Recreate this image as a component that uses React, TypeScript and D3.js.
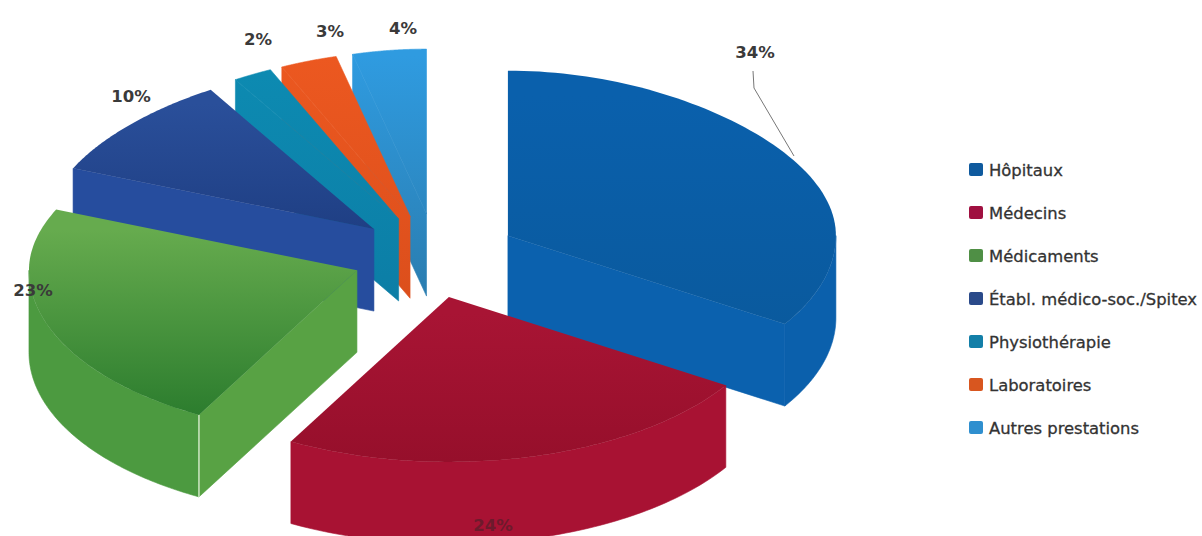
import React from "react";
import * as d3 from "d3";

// Healthcare cost breakdown, shares in percent
const categories = [
  "Hôpitaux",
  "Médecins",
  "Médicaments",
  "Établ. médico-soc./Spitex",
  "Physiothérapie",
  "Laboratoires",
  "Autres prestations",
];
const shares = [34, 24, 23, 10, 2, 3, 4];

// Colours per slice: legend swatch, top face (far, near) and side walls
const swatchColors = ["#0f5a9e", "#a01040", "#4f8f45", "#2a4a8a", "#137fa8", "#d8561f", "#2f8fcf"];
const topFar = ["#0a60ac", "#a81434", "#66ab4e", "#2a4f9a", "#0d8bb2", "#ec5820", "#2f9be0"];
const topNear = ["#0a5a9e", "#960f2b", "#2c7d2e", "#1f3f84", "#0c7ea6", "#dc4f1c", "#2a7db0"];
const wallColors = ["#0b60ac", "#a81233", "#4c9a40", "#24499a", "#0c80ac", "#d94a1a", "#2b7fb4"];
const sideColors = ["#0b61ae", "#a81233", "#58a244", "#264d9e", "url(#top-4)", "url(#top-5)", "url(#top-6)"];

// Label placement on the canvas
const labelX = [755, 493, 33, 131, 258, 330, 403];
const labelY = [58, 531, 296, 102, 45, 37, 34];
const leader: [number, number][] = [[753, 71], [754, 88], [794, 156]];

const WIDTH = 1202;
const HEIGHT = 536;
const CX = 436;
const CY = 256;
const RX = 328;
const TILT = 0.503;
const EXPLODE = 84;
const DEPTH = 82;
const FORESHORTEN = 0.1;
// Sideways correction of the pulled-out slices
const nudgeX = [0, -8, 0, 0, 0, 0, 0];
// Slices this narrow share one gradient between their top and cut faces
const sharedGradientFrom = 4;

const pie = d3.pie<number>().sort(null).startAngle(0).endAngle(2 * Math.PI);
const arcs = pie(shares);
const line = d3.line<[number, number]>();

// Far half of the disc narrows slightly, as in a perspective view
const narrow = (angle: number) => {
  const c = Math.cos(angle);
  return c > 0 ? 1 - FORESHORTEN * c * c : 1;
};

type Slice = {
  i: number;
  ax: number;
  ay: number;
  start: number;
  end: number;
  mid: number;
};

const slices: Slice[] = arcs
  .map((a) => {
    const mid = (a.startAngle + a.endAngle) / 2;
    return {
      i: a.index,
      ax: CX + EXPLODE * Math.sin(mid) * narrow(mid) + nudgeX[a.index],
      ay: CY - EXPLODE * TILT * Math.cos(mid),
      start: a.startAngle,
      end: a.endAngle,
      mid,
    };
  })
  // Paint far slices first, so nearer ones overlap them
  .sort((p, q) => -Math.cos(p.mid) + Math.cos(q.mid));

const rim = (s: Slice, angle: number, drop = 0): [number, number] => [
  s.ax + RX * narrow(angle) * Math.sin(angle),
  s.ay - RX * TILT * Math.cos(angle) + drop,
];

const sweep = (from: number, to: number) =>
  d3.range(0, 81).map((k) => from + ((to - from) * k) / 80);

function topPath(s: Slice): string {
  return line([[s.ax, s.ay], ...sweep(s.start, s.end).map((a) => rim(s, a))]) + "Z";
}

// Outer wall: only the part of the rim turned towards the viewer
function wallPath(s: Slice): string | null {
  const from = Math.max(s.start, Math.PI / 2);
  const to = Math.min(s.end, (3 * Math.PI) / 2);
  if (to <= from) return null;
  const steps = sweep(from, to);
  const upper = steps.map((a) => rim(s, a));
  const lower = steps.map((a) => rim(s, a, DEPTH)).reverse();
  return line([...upper, ...lower]) + "Z";
}

// Radial cut face, extruded downwards
function cutPath(s: Slice, angle: number): string {
  const p = rim(s, angle);
  return (
    line([
      [s.ax, s.ay],
      p,
      [p[0], p[1] + DEPTH],
      [s.ax, s.ay + DEPTH],
    ]) + "Z"
  );
}

const legendY = d3.scalePoint<string>().domain(categories).range([170, 428]);

const fontFamily = "'DejaVu Sans', Verdana, sans-serif";

export default function App() {
  return (
    <svg
      width={WIDTH}
      height={HEIGHT}
      viewBox={`0 0 ${WIDTH} ${HEIGHT}`}
      style={{ position: "absolute", left: 0, top: 0, display: "block", background: "#fff" }}
    >
      <defs>
        {categories.map((_, i) =>
          i >= sharedGradientFrom ? (
            <linearGradient key={i} id={`top-${i}`} gradientUnits="userSpaceOnUse" x1="0" y1={CY - 200} x2="0" y2={CY + 40}>
              <stop offset="0" stopColor={topFar[i]} />
              <stop offset="1" stopColor={topNear[i]} />
            </linearGradient>
          ) : (
            <linearGradient key={i} id={`top-${i}`} x1="0" y1="0" x2="0" y2="1">
              <stop offset="0.1" stopColor={topFar[i]} />
              <stop offset="1" stopColor={topNear[i]} />
            </linearGradient>
          )
        )}
      </defs>

      {slices.map((s) => {
        const wall = wallPath(s);
        const showStart = Math.sin(s.start) < 0;
        const showEnd = Math.sin(s.end) > 0.001;
        const seam = showStart && s.start > Math.PI / 2 && s.start < (3 * Math.PI) / 2;
        const tip = rim(s, s.start);
        const side = sideColors[s.i];
        return (
          <g key={s.i}>
            {wall && <path d={wall} fill={wallColors[s.i]} stroke={wallColors[s.i]} strokeWidth={0.6} />}
            {showStart && <path d={cutPath(s, s.start)} fill={side} stroke={side} strokeWidth={0.6} />}
            {showEnd && <path d={cutPath(s, s.end)} fill={side} stroke={side} strokeWidth={0.6} />}
            {seam && (
              <line
                x1={tip[0]}
                y1={tip[1]}
                x2={tip[0]}
                y2={tip[1] + DEPTH}
                stroke="#cfe6c4"
                strokeWidth={1.5}
              />
            )}
            <path
              d={topPath(s)}
              fill={`url(#top-${s.i})`}
              stroke={s.i >= sharedGradientFrom ? `url(#top-${s.i})` : "none"}
              strokeWidth={0.6}
            />
          </g>
        );
      })}

      <path d={line(leader) ?? ""} fill="none" stroke="#777" strokeWidth={1} />

      {shares.map((v, i) => (
        <text
          key={categories[i]}
          x={labelX[i]}
          y={labelY[i]}
          textAnchor="middle"
          fontFamily={fontFamily}
          fontSize={16.5}
          fontWeight={700}
          fill={i === 1 ? "#6d1a2c" : "#3a3a3a"}
        >
          {v}%
        </text>
      ))}

      {categories.map((c, i) => {
        const y = legendY(c) ?? 0;
        return (
          <g key={c}>
            <rect x={969} y={y - 7} width={14} height={13} rx={2} fill={swatchColors[i]} />
            <text
              x={989}
              y={y + 6}
              fontFamily={fontFamily}
              fontSize={16.4}
              stroke="#333"
              strokeWidth={0.3}
              fill="#333"
            >
              {c}
            </text>
          </g>
        );
      })}
    </svg>
  );
}
